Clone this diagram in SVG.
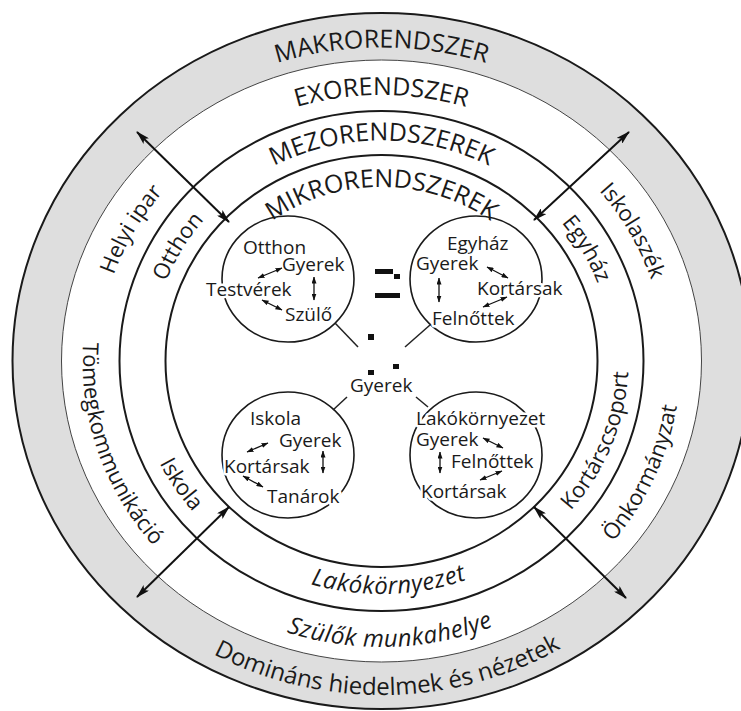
<svg xmlns="http://www.w3.org/2000/svg" width="741" height="711" viewBox="0 0 741 711">
<style>
.lbl{font-family:"Open Sans","Noto Sans",sans-serif;font-size:22px;fill:#1a1a1a}
.cap{font-size:25px}
.bot{font-size:24px}
.in{font-family:"Open Sans","Noto Sans",sans-serif;font-size:19px;fill:#1a1a1a;stroke:#fff;stroke-width:5;paint-order:stroke;stroke-linejoin:round}
.ring{fill:none;stroke:#1a1a1a;stroke-width:2}
.mc{fill:none;stroke:#1a1a1a;stroke-width:1.6}
.big{stroke:#111;stroke-width:2;fill:none;marker-start:url(#ah);marker-end:url(#ah)}
.sm{stroke:#111;stroke-width:1.3;fill:none;marker-start:url(#as);marker-end:url(#as)}
.ln{stroke:#222;stroke-width:1.5;fill:none}
.dot{fill:#111}
</style>
<defs>
<marker id="ah" viewBox="0 0 14 8" refX="13" refY="4" markerWidth="14" markerHeight="8" orient="auto-start-reverse" markerUnits="userSpaceOnUse"><path d="M0,0 L14,4 L0,8 L3,4 z" fill="#111"/></marker>
<marker id="as" viewBox="0 0 7 5" refX="6.5" refY="2.5" markerWidth="7" markerHeight="5" orient="auto-start-reverse" markerUnits="userSpaceOnUse"><path d="M0,0 L7,2.5 L0,5 z" fill="#111"/></marker>
<path id="g-cw" d="M381.5,674.5 A335.5,313.5 0 1 1 381.5,47.5 A335.5,313.5 0 1 1 381.5,674.5"/>
<path id="e-cw" d="M381.5,627 A283,266 0 1 1 381.5,95 A283,266 0 1 1 381.5,627"/>
<path id="m-cw" d="M381.5,581.5 A231,220.5 0 1 1 381.5,140.5 A231,220.5 0 1 1 381.5,581.5"/>
<path id="k-cw" d="M381.5,535 A184,174 0 1 1 381.5,187 A184,174 0 1 1 381.5,535"/>
<path id="g-ccw" d="M381.5,27 A351.5,334 0 1 0 381.5,695 A351.5,334 0 1 0 381.5,27"/>
<path id="e-ccw" d="M381.5,75 A299,286 0 1 0 381.5,647 A299,286 0 1 0 381.5,75"/>
<path id="m-ccw" d="M381.5,128 A247,233 0 1 0 381.5,594 A247,233 0 1 0 381.5,128"/>
</defs>
<rect width="741" height="711" fill="#fff"/>
<g id="makrorendszer">
<ellipse cx="381.5" cy="361" rx="369" ry="348" fill="#dedede" stroke="#1a1a1a" stroke-width="2"/>
<text class="lbl cap"><textPath href="#g-cw" startOffset="50%" text-anchor="middle">MAKRORENDSZER</textPath></text>
<text class="lbl bot"><textPath href="#g-ccw" startOffset="50.3%" text-anchor="middle">Domináns hiedelmek és nézetek</textPath></text>
</g>
<g id="exorendszer">
<ellipse cx="381.5" cy="361" rx="320" ry="301" fill="#fff" stroke="#444" stroke-width="1"/>
<text class="lbl cap"><textPath href="#e-cw" startOffset="50%" text-anchor="middle">EXORENDSZER</textPath></text>
<text class="lbl"><textPath href="#e-cw" startOffset="32.9%" text-anchor="middle">Helyi ipar</textPath></text>
<text class="lbl"><textPath href="#e-cw" startOffset="67.2%" text-anchor="middle">Iskolaszék</textPath></text>
<text class="lbl"><textPath href="#e-ccw" startOffset="30%" text-anchor="middle">Tömegkommunikáció</textPath></text>
<text class="lbl"><textPath href="#e-ccw" startOffset="68.4%" text-anchor="middle">Önkormányzat</textPath></text>
<text class="lbl bot" font-style="italic" letter-spacing="0.5"><textPath href="#e-ccw" startOffset="50.5%" text-anchor="middle">Szülők munkahelye</textPath></text>
</g>
<g id="mezorendszerek">
<ellipse class="ring" cx="381.5" cy="361" rx="262" ry="250"/>
<text class="lbl cap"><textPath href="#m-cw" startOffset="50%" text-anchor="middle">MEZORENDSZEREK</textPath></text>
<text class="lbl"><textPath href="#m-cw" startOffset="33.3%" text-anchor="middle">Otthon</textPath></text>
<text class="lbl"><textPath href="#m-cw" startOffset="66.9%" text-anchor="middle">Egyház</textPath></text>
<text class="lbl"><textPath href="#m-ccw" startOffset="34%" text-anchor="middle">Iskola</textPath></text>
<text class="lbl"><textPath href="#m-ccw" startOffset="69.2%" text-anchor="middle">Kortárscsoport</textPath></text>
<text class="lbl bot" font-style="italic" letter-spacing="0.5"><textPath href="#m-ccw" startOffset="50.5%" text-anchor="middle">Lakókörnyezet</textPath></text>
</g>
<g id="mikrorendszerek">
<ellipse class="ring" cx="381.5" cy="361" rx="216" ry="206"/>
<text class="lbl cap"><textPath href="#k-cw" startOffset="50%" text-anchor="middle">MIKRORENDSZEREK</textPath></text>
</g>
<g id="node-otthon">
<ellipse class="mc" cx="288" cy="279" rx="66" ry="63"/>
<text class="in" x="243" y="254">Otthon</text>
<text class="in" x="282" y="271">Gyerek</text>
<text class="in" x="206" y="296">Testvérek</text>
<text class="in" x="285" y="321">Szülő</text>
</g>
<g id="node-egyhaz">
<ellipse class="mc" cx="476" cy="279" rx="66" ry="63"/>
<text class="in" x="447" y="250">Egyház</text>
<text class="in" x="416" y="270">Gyerek</text>
<text class="in" x="477" y="295">Kortársak</text>
<text class="in" x="432" y="325">Felnőttek</text>
</g>
<g id="node-iskola">
<ellipse class="mc" cx="288" cy="455" rx="66" ry="63"/>
<text class="in" x="250" y="425">Iskola</text>
<text class="in" x="279" y="447">Gyerek</text>
<text class="in" x="224" y="473">Kortársak</text>
<text class="in" x="267" y="503">Tanárok</text>
</g>
<g id="node-lakokornyezet">
<ellipse class="mc" cx="476" cy="455" rx="66" ry="63"/>
<text class="in" x="416" y="425">Lakókörnyezet</text>
<text class="in" x="416" y="446">Gyerek</text>
<text class="in" x="451" y="468">Felnőttek</text>
<text class="in" x="421" y="498">Kortársak</text>
</g>
<g id="node-gyerek">
<text class="in" x="350" y="392">Gyerek</text>
</g>
<g id="marks">
<rect class="dot" x="375" y="269" width="18" height="5"/>
<rect class="dot" x="394" y="274" width="6" height="5"/>
<rect class="dot" x="375" y="293" width="25" height="5"/>
<rect class="dot" x="368" y="334" width="6" height="6"/>
<rect class="dot" x="368" y="370" width="6" height="5"/>
<rect class="dot" x="393" y="364" width="6" height="5"/>
</g>
<g id="connectors">
<line class="ln" x1="335" y1="323" x2="358" y2="347"/>
<line class="ln" x1="430" y1="325" x2="405" y2="347"/>
<line class="ln" x1="347" y1="397" x2="333" y2="410"/>
<line class="ln" x1="416" y1="397" x2="428" y2="407"/>
<line class="big" x1="137" y1="132" x2="229" y2="222"/>
<line class="big" x1="629" y1="132" x2="534" y2="220"/>
<line class="big" x1="137" y1="597" x2="229" y2="507"/>
<line class="big" x1="626" y1="598" x2="534" y2="507"/>
<line class="sm" x1="258" y1="278" x2="282" y2="268"/>
<line class="sm" x1="262" y1="300" x2="282" y2="310"/>
<line class="sm" x1="314" y1="277" x2="314" y2="300"/>
<line class="sm" x1="487" y1="267" x2="508" y2="278"/>
<line class="sm" x1="507" y1="297" x2="483" y2="307"/>
<line class="sm" x1="439" y1="278" x2="439" y2="302"/>
<line class="sm" x1="247" y1="452" x2="268" y2="443"/>
<line class="sm" x1="243" y1="476" x2="263" y2="487"/>
<line class="sm" x1="323" y1="451" x2="323" y2="473"/>
<line class="sm" x1="483" y1="438" x2="503" y2="448"/>
<line class="sm" x1="502" y1="471" x2="480" y2="480"/>
<line class="sm" x1="440" y1="452" x2="440" y2="473"/>
</g>
</svg>
